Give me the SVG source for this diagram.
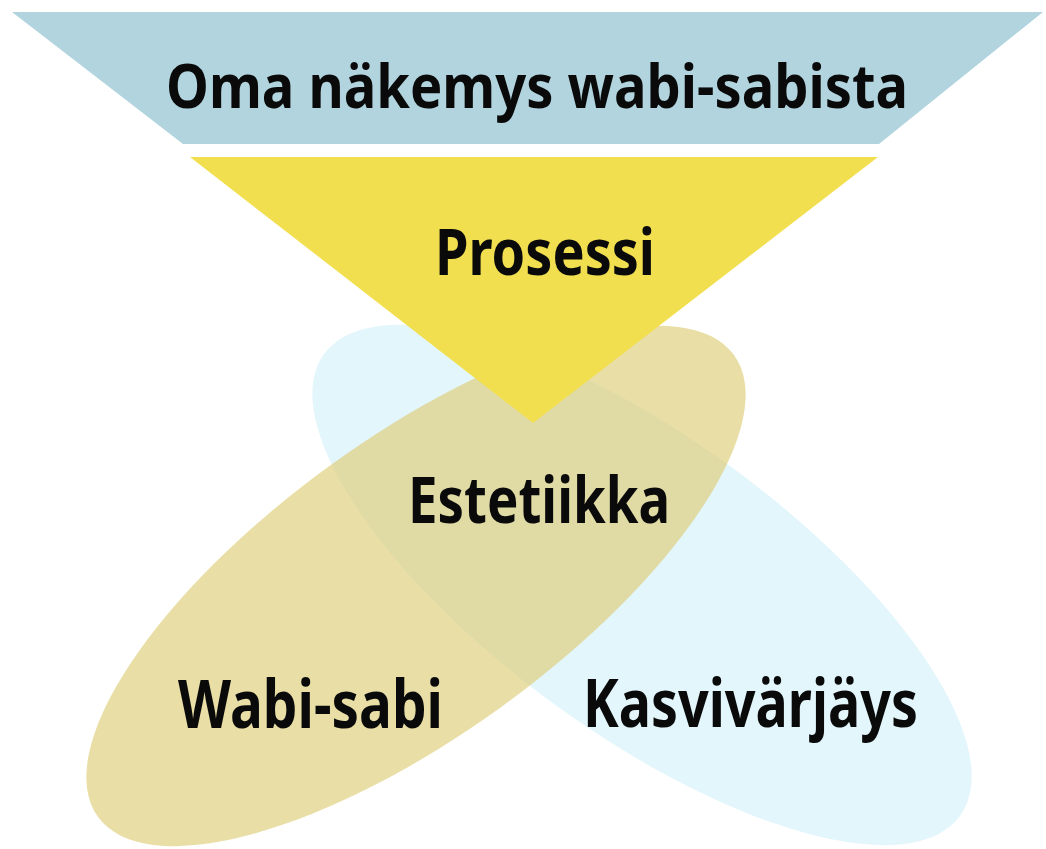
<svg xmlns="http://www.w3.org/2000/svg" width="1046" height="849" viewBox="0 0 1046 849">
<style>
.t{font-family:"Noto Sans","Open Sans","Liberation Sans",sans-serif;font-weight:bold;fill:#0a0a0a}
</style>
<rect width="1046" height="849" fill="#ffffff"/>
<g id="kasvivarjays">
<ellipse cx="642" cy="585" rx="393" ry="148" transform="rotate(36 642 585)" fill="#e3f6fc"/>
<text class="t" x="583" y="727" font-size="66" textLength="335" lengthAdjust="spacingAndGlyphs">Kasvivärjäys</text>
</g>
<g id="wabisabi">
<ellipse cx="416" cy="586" rx="393" ry="148" transform="rotate(-36 416 586)" fill="#ded080" opacity="0.7"/>
<text class="t" x="178" y="728" font-size="66" textLength="265" lengthAdjust="spacingAndGlyphs">Wabi-sabi</text>
</g>
<g id="oma">
<polygon points="12,12 1043,12 879,144 183,144" fill="#b1d4de"/>
<text class="t" x="166" y="108" font-size="61" textLength="742" lengthAdjust="spacingAndGlyphs">Oma näkemys wabi-sabista</text>
</g>
<g id="prosessi">
<polygon points="190,157 878,157 533,423" fill="#f2df4f"/>
<text class="t" x="435" y="275" font-size="64" textLength="220" lengthAdjust="spacingAndGlyphs">Prosessi</text>
</g>
<g id="estetiikka">
<text class="t" x="408" y="523" font-size="64" textLength="262" lengthAdjust="spacingAndGlyphs">Estetiikka</text>
</g>
<g id="connectors"/>
</svg>
